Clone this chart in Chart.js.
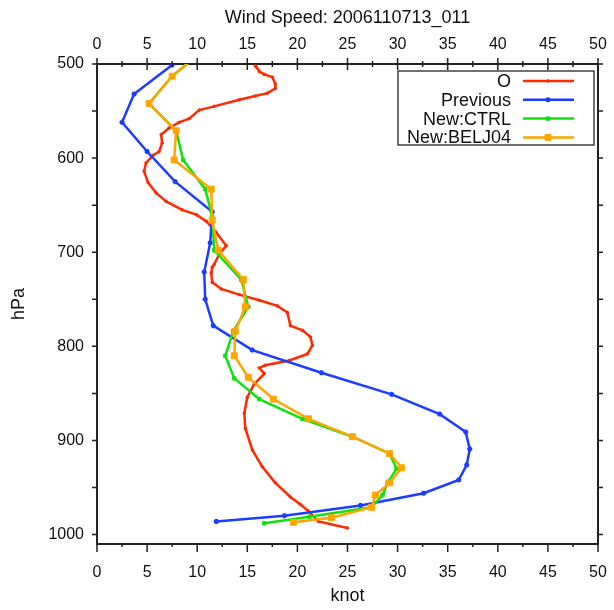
<!DOCTYPE html>
<html lang="en">
<head>
<meta charset="UTF-8">
<title>Wind Speed</title>
<script src="https://cdn.jsdelivr.net/npm/chart.js@4.4.9/dist/chart.umd.min.js"></script>
<style>
    body { margin: 0; background: #fff; }
</style>
</head>
<body>
<canvas id="myChartCanvas" width="614" height="610"></canvas>
<script>
    // observed profile (O)
    var obsP   = [502, 503, 508, 511, 514, 521, 526, 531, 534, 538, 545, 549, 558, 562, 568, 575, 584, 593, 597, 605,
                  614, 626, 637, 646, 655, 660, 667, 679, 693, 702, 713, 716, 722, 732, 739, 745, 751, 757, 764, 778,
                  783, 790, 799, 808, 815, 820, 823, 829, 840, 854, 871, 887, 910, 928, 945, 960, 968, 975, 986, 993]
    var obsSpd = [15.8, 15.9, 16.2, 16.7, 17.5, 17.8, 17.8, 17.0, 15.8, 14.2, 11.7, 10.2, 9.2, 8.2, 7.2, 6.4, 6.5, 6.2, 5.6, 4.9,
                  4.7, 5.1, 5.9, 6.9, 8.5, 9.9, 10.9, 11.9, 12.9, 12.2, 11.7, 11.5, 11.4, 11.5, 12.4, 14.2, 16.2, 18.0, 19.0, 19.3,
                  20.5, 21.3, 21.5, 21.0, 19.2, 16.8, 16.2, 16.7, 15.7, 15.0, 14.7, 14.8, 15.5, 16.5, 17.8, 19.3, 20.3, 21.1, 22.1, 25.0]

    // Previous
    var prevP   = [501, 532, 562, 593, 625, 657, 690, 721, 750, 778, 804, 828, 851, 872, 891, 909, 926, 942, 956, 969, 980, 986]
    var prevSpd = [7.5, 3.7, 2.5, 5.0, 7.8, 11.5, 11.3, 10.7, 10.8, 11.6, 15.5, 22.4, 29.4, 34.2, 36.8, 37.2, 36.9, 36.1, 32.6, 26.3, 18.7, 11.9]

    // New:CTRL
    var ctrlP   = [490, 513, 542, 571, 602, 633, 662, 698, 729, 758, 784, 810, 834, 856, 877, 896, 914, 930, 945, 958, 971, 981, 988]
    var ctrlSpd = [10.1, 7.5, 5.2, 7.9, 8.6, 10.8, 11.5, 11.7, 14.4, 15.1, 13.6, 12.8, 13.7, 16.2, 20.5, 25.5, 29.2, 29.9, 29.0, 28.5, 27.4, 21.2, 16.7]

    // New:BELJ04
    var beljP   = [490, 513, 542, 571, 602, 633, 666, 698, 729, 758, 784, 810, 833, 856, 877, 896, 914, 929, 945, 958, 971, 982, 987]
    var beljSpd = [10.1, 7.5, 5.2, 7.9, 7.7, 11.4, 11.5, 12.1, 14.6, 14.8, 13.8, 13.7, 15.1, 17.6, 21.1, 25.5, 29.2, 30.4, 29.2, 27.8, 27.4, 23.4, 19.6]

    var knotTicks = [0, 5, 10, 15, 20, 25, 30, 35, 40, 45, 50]
    var presTicks = [500, 600, 700, 800, 900, 1000]

    var fonte = 'Liberation Sans, Arial, Helvetica, sans-serif'

    function pontos(p, v) {
        var lista = []
        for (var i = 0; i < p.length; i++) {
            lista.push({ x: v[i], y: p[i] })
        }
        return lista
    }

    function serie(nome, p, v, cor, estilo, raio, ordem) {
        return {
            label: nome,
            data: pontos(p, v),
            showLine: true,
            borderColor: cor,
            backgroundColor: cor,
            borderWidth: 2.5,
            pointStyle: estilo,
            pointRadius: raio,
            pointBorderWidth: estilo == 'star' ? 2 : 1,
            pointHoverRadius: raio,
            xAxisID: 'x',
            yAxisID: 'y',
            order: ordem
        }
    }

    var datasets = [
        serie('O', obsP, obsSpd, '#ff2a00', 'circle', 1.3, 4),
        serie('Previous', prevP, prevSpd, '#1a3dff', 'star', 2.5, 3),
        serie('New:CTRL', ctrlP, ctrlSpd, '#11e011', 'rect', 2.4, 2),
        serie('New:BELJ04', beljP, beljSpd, '#ffa500', 'rect', 4.2, 1)
    ]

    // tick marks like the original (minor + major, top ticks cross the axis)
    const marcas = {
        id: 'marcas',
        afterDraw(chart) {
            const ctx = chart.ctx
            const a = chart.chartArea
            const sx = chart.scales.x
            const sy = chart.scales.y
            ctx.save()
            ctx.strokeStyle = '#222'
            ctx.lineWidth = 1.5
            ctx.beginPath()
            for (let k = 0; k <= 50; k += 2.5) {
                const px = sx.getPixelForValue(k)
                const major = k % 5 == 0
                ctx.moveTo(px, a.bottom)
                ctx.lineTo(px, a.bottom + (major ? 8 : 3))
                ctx.moveTo(px, a.top - (major ? 6 : 3))
                ctx.lineTo(px, a.top + (major ? 6 : 3))
            }
            for (let p = 500; p <= 1000; p += 50) {
                const py = sy.getPixelForValue(p)
                ctx.moveTo(a.left - 5, py)
                ctx.lineTo(a.left, py)
                ctx.moveTo(a.right, py)
                ctx.lineTo(a.right + 5, py)
            }
            ctx.stroke()
            ctx.restore()
        }
    }

    // legend box in the upper right, text right aligned before the line
    const legenda = {
        id: 'legenda',
        afterDatasetsDraw(chart) {
            const ctx = chart.ctx
            const a = chart.chartArea
            const bx = a.right - 200
            const by = a.top + 7
            ctx.save()
            ctx.fillStyle = '#fff'
            ctx.fillRect(bx, by, 196, 74)
            ctx.strokeStyle = '#111'
            ctx.lineWidth = 1.2
            ctx.strokeRect(bx, by, 196, 74)
            ctx.font = '18px ' + fonte
            ctx.textAlign = 'right'
            ctx.textBaseline = 'middle'
            chart.data.datasets.forEach(function (ds, i) {
                const y = by + 10 + i * 18.8
                ctx.fillStyle = '#111'
                ctx.fillText(ds.label, bx + 113, y + 1)
                ctx.strokeStyle = ds.borderColor
                ctx.fillStyle = ds.borderColor
                ctx.lineWidth = 2.5
                ctx.beginPath()
                ctx.moveTo(bx + 125, y)
                ctx.lineTo(bx + 176, y)
                ctx.stroke()
                ctx.lineWidth = ds.pointBorderWidth
                Chart.helpers.drawPoint(ctx, {
                    pointStyle: ds.pointStyle,
                    radius: ds.pointRadius,
                    borderWidth: ds.pointBorderWidth,
                    rotation: 0
                }, bx + 150, y)
            })
            ctx.restore()
        }
    }

    function rotulo(v) { return String(v) }

    // fixed box sizes so the plot area matches the original frame
    function ajustaHorizontal(altura) {
        return function (s) {
            s.height = altura
            s.paddingLeft = 0
            s.paddingRight = 0
        }
    }

    const config = {
        type: 'scatter',
        data: { datasets: datasets },
        options: {
            responsive: false,
            animation: false,
            layout: { padding: 0, autoPadding: false },
            plugins: {
                legend: { display: false },
                title: { display: false },
                tooltip: { enabled: false }
            },
            scales: {
                x: {
                    type: 'linear',
                    position: 'bottom',
                    min: 0,
                    max: 50,
                    afterBuildTicks: function (s) { s.ticks = knotTicks.map(function (v) { return { value: v } }) },
                    afterFit: ajustaHorizontal(66),
                    grid: { display: true, drawOnChartArea: false, drawTicks: false },
                    border: { display: true, color: '#222', width: 2 },
                    ticks: { color: '#111', padding: 19, maxRotation: 0, callback: rotulo, font: { family: fonte, size: 16 } },
                    title: { display: true, text: 'knot', color: '#111', padding: { bottom: 3 }, font: { family: fonte, size: 18 } }
                },
                x2: {
                    type: 'linear',
                    position: 'top',
                    min: 0,
                    max: 50,
                    afterBuildTicks: function (s) { s.ticks = knotTicks.map(function (v) { return { value: v } }) },
                    afterFit: ajustaHorizontal(64),
                    grid: { display: true, drawOnChartArea: false, drawTicks: false },
                    border: { display: true, color: '#222', width: 2 },
                    ticks: { color: '#111', padding: 10, maxRotation: 0, callback: rotulo, font: { family: fonte, size: 16 } },
                    title: { display: true, text: 'Wind Speed: 2006110713_011', color: '#111', padding: { top: 7 }, font: { family: fonte, size: 18 } }
                },
                y: {
                    type: 'linear',
                    position: 'left',
                    reverse: true,
                    min: 500,
                    max: 1010,
                    afterBuildTicks: function (s) { s.ticks = presTicks.map(function (v) { return { value: v } }) },
                    afterFit: function (s) { s.width = 97 },
                    grid: { display: true, drawOnChartArea: false, drawTicks: false },
                    border: { display: true, color: '#222', width: 2 },
                    ticks: { color: '#111', padding: 13, callback: rotulo, font: { family: fonte, size: 16 } },
                    title: { display: true, text: 'hPa', color: '#111', padding: { top: 8 }, font: { family: fonte, size: 18 } }
                },
                y2: {
                    type: 'linear',
                    position: 'right',
                    reverse: true,
                    min: 500,
                    max: 1010,
                    afterFit: function (s) { s.width = 16 },
                    grid: { display: true, drawOnChartArea: false, drawTicks: false },
                    border: { display: true, color: '#222', width: 2 },
                    ticks: { display: false }
                }
            }
        },
        plugins: [marcas, legenda]
    }

    let myChart = new Chart(document.getElementById('myChartCanvas'), config)
</script>
</body>
</html>
